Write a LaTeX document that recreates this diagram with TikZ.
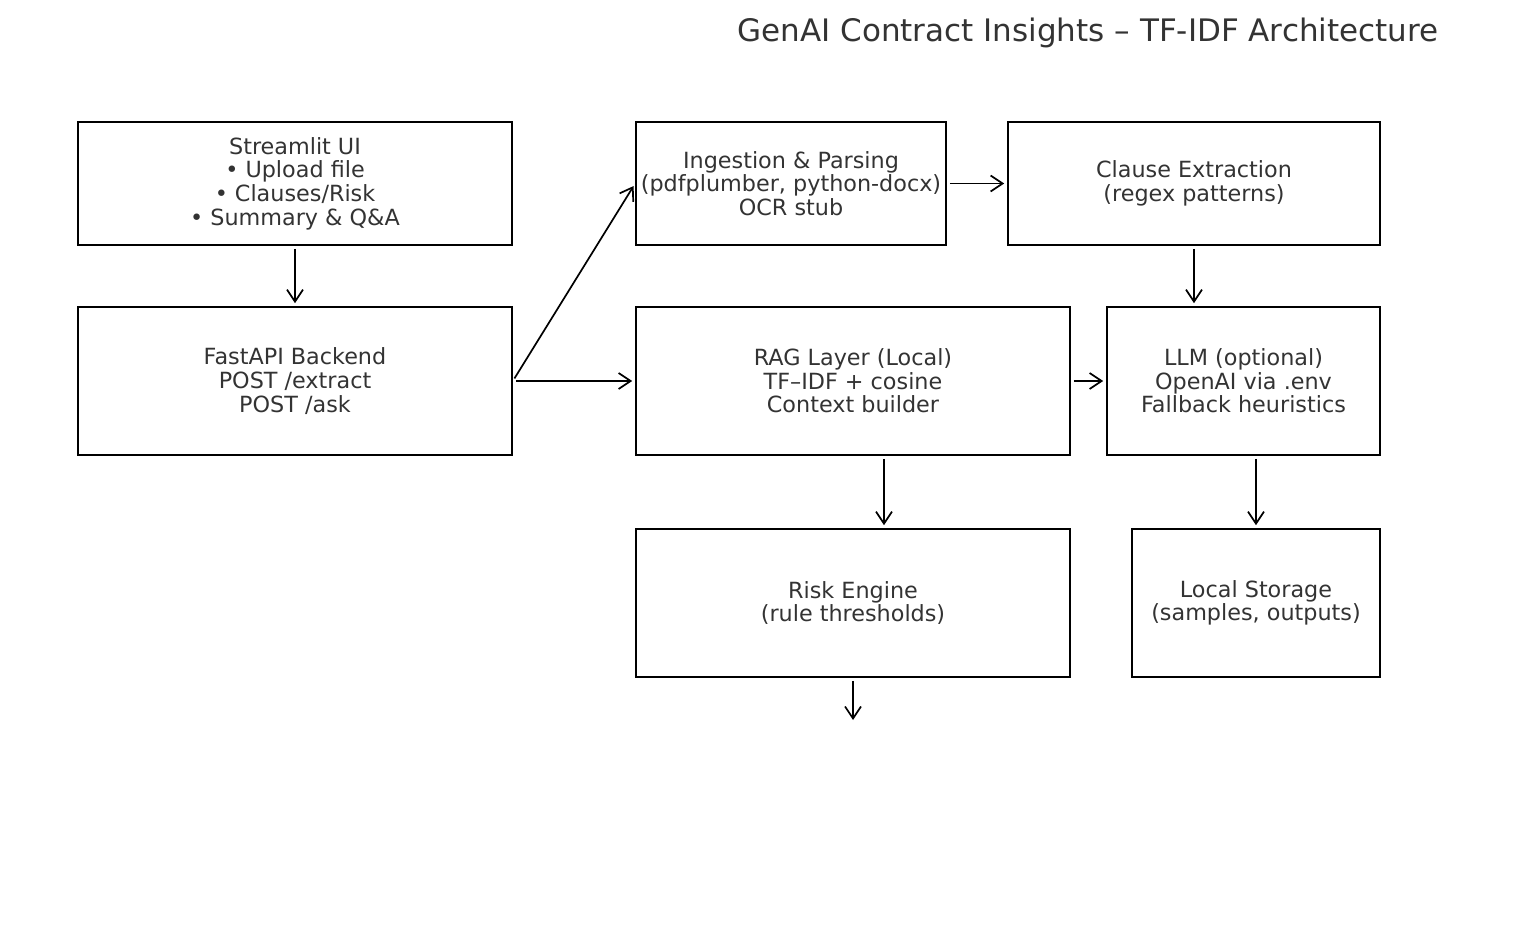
\documentclass[tikz,border=0pt]{standalone}
\usepackage{fontspec}
\setmainfont{DejaVu Sans}
\usetikzlibrary{arrows.meta,positioning,calc}
\definecolor{ArchText}{HTML}{333333}
\definecolor{ArchLine}{HTML}{000000}

\begin{document}
\begin{tikzpicture}[x=1pt,y=-1pt,>={Straight Barb[length=12pt,width=16pt]}]
  \tikzstyle{box}=[draw=ArchLine, line width=1.7pt, inner sep=0pt, align=center, text=ArchText, font=\fontsize{22.3}{23.6}\selectfont]
  \tikzstyle{link}=[->, line width=1.7pt, color=ArchLine, shorten <=3pt, shorten >=3pt]
  \useasboundingbox (0,0) rectangle (1520,939);
  \node[text=ArchText, font=\fontsize{31}{34}\selectfont] (title) at (1088,32.5) {GenAI Contract Insights – TF-IDF Architecture};
  \node[box, minimum width=434pt, minimum height=123pt] (ui) at (295,183.5) {Streamlit UI\\• Upload file\\• Clauses/Risk\\• Summary \& Q\&A};
  \node[box, minimum width=434pt, minimum height=148pt] (api) at (295,381) {FastAPI Backend\\POST /extract\\POST /ask};
  \node[box, minimum width=310pt, minimum height=123pt] (ingest) at (791,183.5) {Ingestion \& Parsing\\(pdfplumber, python-docx)\\OCR stub};
  \node[box, minimum width=372pt, minimum height=123pt] (clause) at (1194,183.5) {Clause Extraction\\(regex patterns)};
  \node[box, minimum width=434pt, minimum height=148pt] (rag) at (853,381) {RAG Layer (Local)\\TF–IDF + cosine\\Context builder};
  \node[box, minimum width=273pt, minimum height=148pt] (llm) at (1243.5,381) {LLM (optional)\\OpenAI via .env\\Fallback heuristics};
  \node[box, minimum width=434pt, minimum height=148pt] (risk) at (853,603) {Risk Engine\\(rule thresholds)};
  \node[box, minimum width=248pt, minimum height=148pt] (store) at (1256,603) {Local Storage\\(samples, outputs)};
  \coordinate (out) at (853,723);
  \draw[link] (ui) -- (api);
  \draw[link] (api.east) -- (ingest.west);
  \draw[link] (api.east) -- (rag.west);
  \draw[link] (ingest) -- (clause);
  \draw[link] (clause.south) -- (clause.south |- llm.north);
  \draw[link] (rag) -- (llm);
  \draw[link] ([xshift=31pt]rag.south) -- ([xshift=31pt]rag.south |- risk.north);
  \draw[link] (llm.south -| store) -- (store.north);
  \draw[link] (risk.south) -- (out);
\end{tikzpicture}
\end{document}
